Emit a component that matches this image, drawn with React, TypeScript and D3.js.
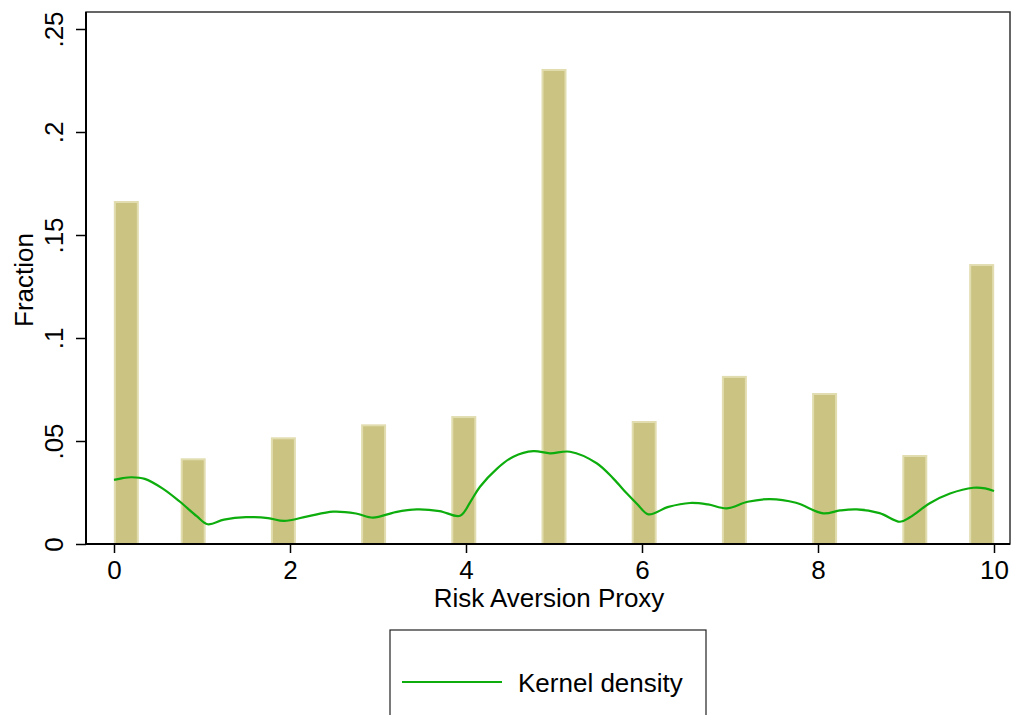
import React, { useRef, useEffect } from 'react';
import * as d3 from 'd3';

// histogram bars (bar centre on the x axis, fraction)
const barX = [0.14, 0.9, 1.925, 2.95, 3.975, 5.0, 6.025, 7.05, 8.075, 9.1, 9.86];
const barFraction = [0.1665, 0.0416, 0.0518, 0.0581, 0.0621, 0.2306, 0.0597, 0.0816, 0.0733, 0.0432, 0.1359];

// kernel density curve
const kdeX = [0, 0.1, 0.2, 0.35, 0.55, 0.75, 0.94, 1.065, 1.25, 1.5, 1.75, 1.932, 2.2, 2.49, 2.75, 2.943, 3.2, 3.44, 3.7, 3.932, 4.05, 4.159, 4.35, 4.538, 4.765, 4.955, 5.182, 5.485, 5.68, 5.826, 5.95, 6.072, 6.3, 6.545, 6.75, 6.962, 7.2, 7.455, 7.75, 8.06, 8.25, 8.44, 8.7, 8.932, 9.045, 9.27, 9.5, 9.765, 9.9, 10];
const kdeY = [0.0311, 0.0320, 0.0324, 0.0316, 0.0270, 0.0205, 0.0135, 0.0096, 0.0118, 0.0130, 0.0126, 0.0112, 0.0134, 0.0157, 0.0148, 0.0128, 0.0155, 0.0168, 0.0160, 0.0137, 0.0205, 0.0278, 0.0365, 0.0424, 0.0451, 0.0440, 0.0448, 0.0392, 0.0315, 0.0246, 0.0192, 0.0144, 0.0180, 0.0199, 0.0192, 0.0173, 0.0205, 0.0218, 0.0200, 0.0149, 0.0163, 0.0168, 0.0150, 0.0108, 0.0130, 0.0198, 0.0245, 0.0273, 0.0270, 0.0257];

const yTicks = [0, 0.05, 0.1, 0.15, 0.2, 0.25];
const yTickLabels = ['0', '.05', '.1', '.15', '.2', '.25'];
const xTicks = [0, 2, 4, 6, 8, 10];

const font = '"Liberation Sans", Arial, sans-serif';

const App = () => {
  const svgRef = useRef<SVGSVGElement>(null);

  useEffect(() => {
    const svg = d3.select(svgRef.current);
    svg.selectAll('*').remove();

    const plot = { left: 86, right: 1010, top: 12, bottom: 544 };

    const x = d3.scaleLinear().domain([0, 10]).range([114, 994]);
    const y = d3.scaleLinear().domain([0, 0.25]).range([544, 29]);
    const barW = x(0.284) - x(0);

    // frame of the plot region
    svg.append('rect')
      .attr('x', plot.left).attr('y', plot.top)
      .attr('width', plot.right - plot.left).attr('height', plot.bottom - plot.top)
      .attr('fill', 'white').attr('stroke', '#333').attr('stroke-width', 1.5);

    // bars
    svg.append('g')
      .selectAll('rect')
      .data(barX.map((bx, i) => ({ bx, f: barFraction[i] })))
      .enter().append('rect')
      .attr('x', d => x(d.bx) - barW / 2 + 1)
      .attr('y', d => y(d.f) + 1)
      .attr('width', barW - 2)
      .attr('height', d => y(0) - y(d.f) - 1)
      .attr('fill', '#cbc382')
      .attr('stroke', '#e2ddb0')
      .attr('stroke-width', 2);

    // kernel density
    const line = d3.line<number>()
      .x((d, i) => x(kdeX[i]))
      .y(d => y(d))
      .curve(d3.curveCatmullRom.alpha(0.5));

    svg.append('path')
      .attr('d', line(kdeY))
      .attr('fill', 'none')
      .attr('stroke', '#0cad0c')
      .attr('stroke-width', 2.2);

    // axes
    const yAxis = svg.append('g')
      .attr('transform', `translate(${plot.left},0)`)
      .call(d3.axisLeft(y).tickValues(yTicks).tickSize(10).tickFormat((d, i) => yTickLabels[i]));
    yAxis.select('.domain').attr('d', `M0,${plot.bottom}V${plot.top}`).attr('stroke', 'black').attr('stroke-width', 2);
    yAxis.selectAll('.tick line').attr('stroke', 'black').attr('stroke-width', 1.5);
    yAxis.selectAll('.tick text')
      .attr('x', null).attr('dy', null)
      .attr('transform', 'translate(-23,0) rotate(-90)')
      .attr('text-anchor', 'middle')
      .attr('font-family', font).attr('font-size', 26).attr('fill', 'black');

    const xAxis = svg.append('g')
      .attr('transform', `translate(0,${plot.bottom})`)
      .call(d3.axisBottom(x).tickValues(xTicks).tickSize(9).tickFormat(d3.format('d')));
    xAxis.select('.domain').attr('d', `M${plot.left},0H${plot.right}`).attr('stroke', 'black').attr('stroke-width', 2);
    xAxis.selectAll('.tick line').attr('stroke', 'black').attr('stroke-width', 1.5);
    xAxis.selectAll('.tick text')
      .attr('y', 35).attr('dy', null)
      .attr('font-family', font).attr('font-size', 26).attr('fill', 'black');

    // axis titles
    svg.append('text')
      .attr('transform', 'translate(33,280) rotate(-90)')
      .attr('text-anchor', 'middle')
      .attr('font-family', font).attr('font-size', 26)
      .text('Fraction');

    svg.append('text')
      .attr('x', 549).attr('y', 607)
      .attr('text-anchor', 'middle')
      .attr('font-family', font).attr('font-size', 26)
      .text('Risk Aversion Proxy');

    // legend
    const legend = svg.append('g');
    legend.append('rect')
      .attr('x', 390).attr('y', 630).attr('width', 316).attr('height', 100)
      .attr('fill', 'white').attr('stroke', '#222').attr('stroke-width', 1.2);
    legend.append('line')
      .attr('x1', 402).attr('x2', 502).attr('y1', 682).attr('y2', 682)
      .attr('stroke', '#0cad0c').attr('stroke-width', 2.2);
    legend.append('text')
      .attr('x', 518).attr('y', 692)
      .attr('font-family', font).attr('font-size', 26)
      .text('Kernel density');
  }, []);

  return (
    <svg ref={svgRef} width="1015" height="715"
      style={{ position: 'absolute', left: 0, top: 0, background: 'white' }}></svg>
  );
};

export default App;
